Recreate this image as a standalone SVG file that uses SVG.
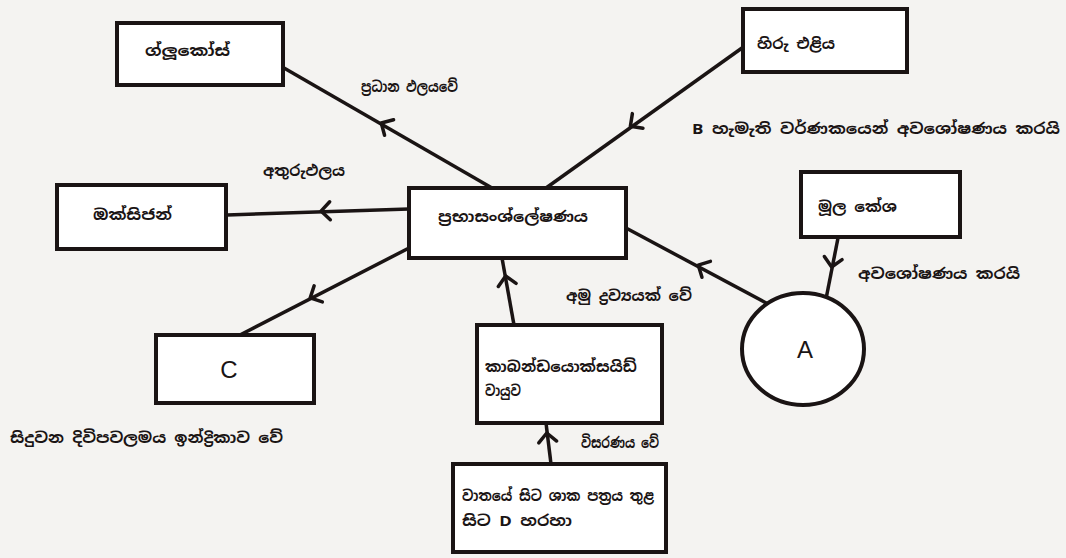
<svg xmlns="http://www.w3.org/2000/svg" width="1066" height="558" viewBox="0 0 1066 558">
<style>
.box{fill:#fff;stroke:#1a1414;stroke-width:4}
.ln{fill:none;stroke:#1a1414;stroke-width:3.5}
.ah{fill:none;stroke:#1a1414;stroke-width:3.5;stroke-linecap:round;stroke-linejoin:round}
.t{font-family:"Noto Sans Sinhala","Noto Sans","Liberation Sans",sans-serif;font-weight:bold;font-size:15px;fill:#1a1414}
.big{font-family:"Liberation Sans",sans-serif;font-size:24px;fill:#1a1414}
</style>
<defs>
<path id="chev" class="ah" d="M-7,-9 L2,0 L-7,9"/>
</defs>
<rect width="1066" height="558" fill="#f4f3f1"/>
<g id="connectors">
<line class="ln" x1="284" y1="68" x2="492" y2="188"/>
<use href="#chev" transform="translate(383,124) rotate(-150)"/>
<line class="ln" x1="742" y1="48" x2="546" y2="188"/>
<use href="#chev" transform="translate(632,125) rotate(144)"/>
<line class="ln" x1="227" y1="215" x2="409" y2="209"/>
<use href="#chev" transform="translate(323,211) rotate(178)"/>
<line class="ln" x1="409" y1="248" x2="238" y2="336"/>
<use href="#chev" transform="translate(312,297) rotate(153)"/>
<line class="ln" x1="626" y1="228" x2="768" y2="304"/>
<use href="#chev" transform="translate(700,266) rotate(-152)"/>
<line class="ln" x1="838" y1="238" x2="826" y2="299"/>
<use href="#chev" transform="translate(832,265) rotate(100)"/>
<line class="ln" x1="514" y1="325" x2="502" y2="258"/>
<use href="#chev" transform="translate(506,278) rotate(-100)"/>
<line class="ln" x1="551" y1="464" x2="546" y2="423"/>
<use href="#chev" transform="translate(547,435) rotate(-96)"/>
</g>
<g id="glucose"><rect class="box" x="117" y="23" width="166" height="62"/><text class="t" x="145" y="56" textLength="85" lengthAdjust="spacingAndGlyphs">ග්ලූකෝස්</text></g>
<g id="sunlight"><rect class="box" x="743" y="9" width="164" height="63"/><text class="t" x="757" y="49" textLength="78" lengthAdjust="spacingAndGlyphs">හිරු එළිය</text></g>
<g id="oxygen"><rect class="box" x="57" y="185" width="169" height="64"/><text class="t" x="93" y="220" textLength="79" lengthAdjust="spacingAndGlyphs">ඔක්සිජන්</text></g>
<g id="photosynthesis"><rect class="box" x="409" y="188" width="217" height="70"/><text class="t" x="438" y="222" textLength="150" lengthAdjust="spacingAndGlyphs">ප්‍රභාසංශ්ලේෂණය</text></g>
<g id="roothair"><rect class="box" x="801" y="172" width="159" height="65"/><text class="t" x="818" y="212" textLength="79" lengthAdjust="spacingAndGlyphs">මූල කේශ</text></g>
<g id="nodeA"><ellipse class="box" cx="803" cy="349" rx="61" ry="56"/><text class="big" x="805" y="358" text-anchor="middle">A</text></g>
<g id="nodeC"><rect class="box" x="156" y="335" width="158" height="68"/><text class="big" x="229" y="378" text-anchor="middle">C</text></g>
<g id="co2"><rect class="box" x="477" y="325" width="185" height="98"/><text class="t" x="485" y="372" textLength="152" lengthAdjust="spacingAndGlyphs">කාබන්ඩයොක්සයිඩ්</text><text class="t" x="485" y="396" textLength="36" lengthAdjust="spacingAndGlyphs">වායුව</text></g>
<g id="nodeD"><rect class="box" x="453" y="464" width="213" height="88"/><text class="t" x="462" y="501" textLength="192" lengthAdjust="spacingAndGlyphs">වාතයේ සිට ශාක පත්‍රය තුළ</text><text class="t" x="462" y="526" textLength="110" lengthAdjust="spacingAndGlyphs">සිට D හරහා</text></g>
<g id="labels">
<text class="t" x="361" y="92" textLength="97" lengthAdjust="spacingAndGlyphs">ප්‍රධාන ඵලයවේ</text>
<text class="t" x="692" y="134" textLength="368" lengthAdjust="spacingAndGlyphs">B හැමැති වර්ණකයෙන් අවශෝෂණය කරයි</text>
<text class="t" x="263" y="176" textLength="82" lengthAdjust="spacingAndGlyphs">අතුරුඵලය</text>
<text class="t" x="566" y="301" textLength="126" lengthAdjust="spacingAndGlyphs">අමු ද්‍රව්‍යයක් වේ</text>
<text class="t" x="858" y="279" textLength="162" lengthAdjust="spacingAndGlyphs">අවශෝෂණය කරයි</text>
<text class="t" x="10" y="443" textLength="273" lengthAdjust="spacingAndGlyphs">සිදුවන දිවිපවලමය ඉන්ද්‍රිකාව වේ</text>
<text class="t" x="581" y="448" textLength="78" lengthAdjust="spacingAndGlyphs">විසරණය වේ</text>
</g>
</svg>
